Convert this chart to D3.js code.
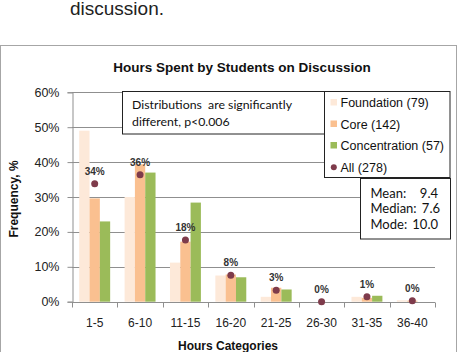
<!DOCTYPE html>
<html>
<head>
<meta charset="utf-8">
<script src="https://cdn.jsdelivr.net/npm/d3@7"></script>
<style>
  body { margin: 0; background: #fff; }
  svg { display: block; }
</style>
</head>
<body>
<div id="viz-container"></div>
<script>
// chart values
var categories = ["1-5", "6-10", "11-15", "16-20", "21-25", "26-30", "31-35", "36-40"];
var seriesNames = ["Foundation (79)", "Core (142)", "Concentration (57)"];
var foundation = [49, 30, 11.2, 7.5, 1.4, 0, 1.4, 0.4];
var core = [29.6, 39.4, 17.2, 7.8, 4.0, 0, 1.1, 0.3];
var concentration = [23, 37, 28.4, 7.0, 3.5, 0, 1.7, 0];
var allName = "All (278)";
var allValues = [33.8, 36.4, 17.7, 7.6, 3.3, 0, 1.4, 0.3];
var allLabels = ["34%", "36%", "18%", "8%", "3%", "0%", "1%", "0%"];
var yTicks = [0, 10, 20, 30, 40, 50, 60];
var noteLines = ["Distributions  are significantly", "different, p<0.006"];
var statNames = ["Mean:", "Median:", "Mode:"];
var statValues = ["9.4", "7.6", "10.0"];

var colors = ["#fde9d9", "#fac090", "#9bbb59"];
var dotColor = "#7e3b4b";

var width = 464, height = 352;
var plot = {left: 72, right: 435, top: 92.3, bottom: 301.7};

var svg = d3.select("#viz-container").append("svg")
    .attr("width", width)
    .attr("height", height);

// text above the chart
svg.append("text")
    .attr("x", 70).attr("y", 15)
    .style("font-family", "Liberation Sans, Arial, sans-serif")
    .style("font-size", "19px")
    .style("fill", "#222")
    .text("discussion.");

// chart frame
svg.append("rect")
    .attr("x", 0.5).attr("y", 45.5)
    .attr("width", 456).attr("height", 330)
    .style("fill", "#fff")
    .style("stroke", "#a6a6a6");

var x0 = d3.scaleBand().domain(categories).range([plot.left, plot.right]).padding(0);
var x1 = d3.scaleBand().domain([0, 1, 2]).range([0, x0.bandwidth()]).paddingInner(0).paddingOuter(0.7);
var y = d3.scaleLinear().domain([0, 60]).range([plot.bottom, plot.top]);

// gridlines
svg.append("g").selectAll("line")
    .data(yTicks.filter(function(d) { return d > 0; }))
    .enter().append("line")
    .attr("x1", plot.left).attr("x2", plot.right)
    .attr("y1", function(d) { return Math.round(y(d)) + 0.5; })
    .attr("y2", function(d) { return Math.round(y(d)) + 0.5; })
    .style("stroke", "#8f8f8f");

// y axis
var yAxis = svg.append("g")
    .attr("transform", "translate(" + (plot.left + 0.5) + ",0)")
    .call(d3.axisLeft(y).tickValues(yTicks).tickSize(5).tickPadding(8)
        .tickFormat(function(d) { return d + "%"; }));
yAxis.select(".domain").style("stroke", "#8f8f8f");
yAxis.selectAll(".tick line").style("stroke", "#8f8f8f");
yAxis.selectAll("text")
    .style("font-family", "Liberation Sans, Arial, sans-serif")
    .style("font-size", "12.5px")
    .style("fill", "#222");

// bars
var rows = [foundation, core, concentration];
rows.forEach(function(vals, s) {
    svg.append("g").selectAll("rect")
        .data(vals)
        .enter().append("rect")
        .attr("x", function(d, i) { return x0(categories[i]) + x1(s); })
        .attr("y", function(d) { return y(d); })
        .attr("width", x1.bandwidth())
        .attr("height", function(d) { return y(0) - y(d); })
        .style("fill", colors[s]);
});

// x axis
var xAxis = svg.append("g")
    .attr("transform", "translate(0," + (Math.round(plot.bottom) + 0.5) + ")");
xAxis.append("line")
    .attr("x1", plot.left).attr("x2", plot.right)
    .style("stroke", "#8f8f8f");
var edges = categories.map(function(c) { return x0(c); }).concat([plot.right]);
xAxis.selectAll(".edge")
    .data(edges)
    .enter().append("line")
    .attr("class", "edge")
    .attr("x1", function(d) { return Math.round(d) + 0.5; })
    .attr("x2", function(d) { return Math.round(d) + 0.5; })
    .attr("y1", 0).attr("y2", 5)
    .style("stroke", "#8f8f8f");
xAxis.selectAll("text")
    .data(categories)
    .enter().append("text")
    .attr("x", function(d) { return x0(d) + x0.bandwidth() / 2; })
    .attr("y", 24)
    .attr("text-anchor", "middle")
    .style("font-family", "Liberation Sans, Arial, sans-serif")
    .style("font-size", "12px")
    .style("fill", "#222")
    .text(function(d) { return d; });

// All dots and labels
svg.append("g").selectAll("circle")
    .data(allValues)
    .enter().append("circle")
    .attr("cx", function(d, i) { return x0(categories[i]) + x0.bandwidth() / 2; })
    .attr("cy", function(d) { return y(d); })
    .attr("r", 3.5)
    .style("fill", dotColor);
svg.append("g").selectAll("text")
    .data(allValues)
    .enter().append("text")
    .attr("x", function(d, i) { return x0(categories[i]) + x0.bandwidth() / 2; })
    .attr("y", function(d) { return y(d) - 9; })
    .attr("text-anchor", "middle")
    .style("font-family", "Liberation Sans, Arial, sans-serif")
    .style("font-size", "10px")
    .style("font-weight", "bold")
    .style("fill", "#333")
    .text(function(d, i) { return allLabels[i]; });

// title
svg.append("text")
    .attr("x", 242).attr("y", 71.5)
    .attr("text-anchor", "middle")
    .style("font-family", "Liberation Sans, Arial, sans-serif")
    .style("font-size", "13.5px")
    .style("font-weight", "bold")
    .style("fill", "#111")
    .text("Hours Spent by Students on Discussion");

// axis titles
svg.append("text")
    .attr("transform", "translate(17.5,199) rotate(-90)")
    .attr("text-anchor", "middle")
    .style("font-family", "Liberation Sans, Arial, sans-serif")
    .style("font-size", "12px")
    .style("font-weight", "bold")
    .style("fill", "#111")
    .text("Frequency, %");
svg.append("text")
    .attr("x", 228).attr("y", 350)
    .attr("text-anchor", "middle")
    .style("font-family", "Liberation Sans, Arial, sans-serif")
    .style("font-size", "12px")
    .style("font-weight", "bold")
    .style("fill", "#111")
    .text("Hours Categories");

// note box
var note = svg.append("g");
note.append("rect")
    .attr("x", 122.5).attr("y", 91.5)
    .attr("width", 203).attr("height", 42.5)
    .style("fill", "#fff").style("stroke", "#222");
note.selectAll("text")
    .data(noteLines)
    .enter().append("text")
    .attr("x", 132)
    .attr("y", function(d, i) { return 108.5 + i * 17.5; })
    .style("font-family", "Lato, sans-serif")
    .style("font-size", "12.3px")
    .style("white-space", "pre")
    .style("fill", "#111")
    .text(function(d) { return d; });

// legend
var legend = svg.append("g");
legend.append("rect")
    .attr("x", 324.5).attr("y", 91.5)
    .attr("width", 125.5).attr("height", 86)
    .style("fill", "#fff").style("stroke", "#222");
var legendNames = seriesNames.concat([allName]);
legend.selectAll("text")
    .data(legendNames)
    .enter().append("text")
    .attr("x", 340.5)
    .attr("y", function(d, i) { return 107 + i * 21.5; })
    .style("font-family", "Liberation Sans, Arial, sans-serif")
    .style("font-size", "12.5px")
    .style("fill", "#111")
    .text(function(d) { return d; });
legend.selectAll("rect.key")
    .data(colors)
    .enter().append("rect")
    .attr("class", "key")
    .attr("x", 330.5)
    .attr("y", function(d, i) { return 99 + i * 21.5; })
    .attr("width", 6.5).attr("height", 6.5)
    .style("fill", function(d) { return d; });
legend.append("circle")
    .attr("cx", 333.8).attr("cy", 167.3)
    .attr("r", 3)
    .style("fill", dotColor);

// stats box
var stats = svg.append("g");
stats.append("rect")
    .attr("x", 360.5).attr("y", 178.5)
    .attr("width", 90).attr("height", 60.5)
    .style("fill", "#fff").style("stroke", "#222");
stats.selectAll("text.name")
    .data(statNames)
    .enter().append("text")
    .attr("class", "name")
    .attr("x", 370.5)
    .attr("y", function(d, i) { return 197.5 + i * 15.8; })
    .style("font-family", "Lato, sans-serif")
    .style("font-size", "13px")
    .style("fill", "#111")
    .text(function(d) { return d; });
stats.selectAll("text.val")
    .data(statValues)
    .enter().append("text")
    .attr("class", "val")
    .attr("x", function(d, i) { return i === 1 ? 440 : 438; })
    .attr("text-anchor", "end")
    .attr("y", function(d, i) { return 197.5 + i * 15.8; })
    .style("font-family", "Lato, sans-serif")
    .style("font-size", "13px")
    .style("fill", "#111")
    .text(function(d) { return d; });
</script>
</body>
</html>
